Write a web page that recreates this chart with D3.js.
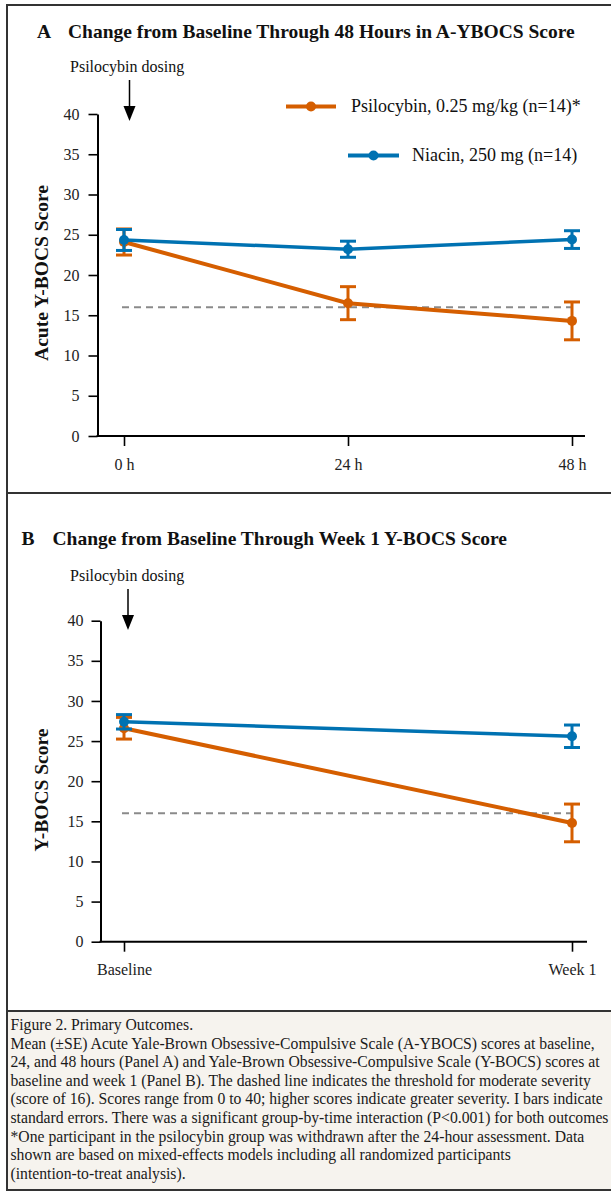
<!DOCTYPE html>
<html>
<head>
<meta charset="utf-8">
<script src="https://cdn.jsdelivr.net/npm/d3@7"></script>
<style>
  body { margin: 0; background: #fff; }
  svg { display: block; font-family: "Liberation Serif", "Times New Roman", serif; }
</style>
</head>
<body>
<svg id="fig"></svg>
<script>
// panel A: acute Y-BOCS through 48 h
var hoursA = ["0 h", "24 h", "48 h"];
var psiloMeanA = [24.1, 16.5, 14.3];
var psiloSeA = [1.62, 2.05, 2.35];
var niacinMeanA = [24.35, 23.2, 24.4];
var niacinSeA = [1.3, 1.0, 1.1];

// panel B: Y-BOCS baseline vs week 1
var weeksB = ["Baseline", "Week 1"];
var psiloMeanB = [26.6, 14.8];
var psiloSeB = [1.35, 2.35];
var niacinMeanB = [27.4, 25.6];
var niacinSeB = [0.9, 1.4];

var yTicks = [0, 5, 10, 15, 20, 25, 30, 35, 40];
var threshold = 16;
var legendLabels = ["Psilocybin, 0.25 mg/kg (n=14)*", "Niacin, 250 mg (n=14)"];

var captionLines = [
  "Figure 2. Primary Outcomes.",
  "Mean (\u00b1SE) Acute Yale-Brown Obsessive-Compulsive Scale (A-YBOCS) scores at baseline,",
  "24, and 48 hours (Panel A) and Yale-Brown Obsessive-Compulsive Scale (Y-BOCS) scores at",
  "baseline and week 1 (Panel B). The dashed line indicates the threshold for moderate severity",
  "(score of 16). Scores range from 0 to 40; higher scores indicate greater severity. I bars indicate",
  "standard errors. There was a significant group-by-time interaction (P<0.001) for both outcomes",
  "*One participant in the psilocybin group was withdrawn after the 24-hour assessment. Data",
  "shown are based on mixed-effects models including all randomized participants",
  "(intention-to-treat analysis)."
];

var ORANGE = "#d55e00", BLUE = "#0072b2";
var W = 611, H = 1191;

var svg = d3.select("#fig").attr("width", W).attr("height", H);

// frame + caption box
svg.append("rect").attr("x", 7).attr("y", 1011).attr("width", W).attr("height", 179)
  .attr("fill", "#f6f3ee");
var frame = svg.append("g").attr("stroke", "#333").attr("stroke-width", 2);
frame.append("line").attr("x1", 7).attr("x2", 7).attr("y1", 5).attr("y2", 1190);
[5, 493, 1011, 1190].forEach(function(y) {
  frame.append("line").attr("x1", 6).attr("x2", W).attr("y1", y).attr("y2", y);
});

function drawPanel(p) {
  var g = svg.append("g");

  var x = d3.scalePoint().domain(p.cats).range([124, 572]);
  var y = d3.scaleLinear().domain([0, 40]).range([p.y0, p.y40]);

  // title
  var t = g.append("text").attr("y", p.titleY)
    .style("font-weight", "bold").style("font-size", "19.5px").attr("fill", "#111");
  t.append("tspan").attr("x", p.letterX).text(p.letter);
  t.append("tspan").attr("x", p.titleX).text(p.title);

  // dosing arrow
  g.append("text").attr("x", 70).attr("y", p.doseY).style("font-size", "16px")
    .attr("fill", "#111").text("Psilocybin dosing");
  g.append("line").attr("x1", p.arrowX).attr("x2", p.arrowX)
    .attr("y1", p.doseY + 8).attr("y2", p.arrowTip - 12)
    .attr("stroke", "#000").attr("stroke-width", 1.5);
  g.append("path")
    .attr("d", "M" + (p.arrowX - 6) + "," + (p.arrowTip - 15) + "L" + (p.arrowX + 6) + "," +
      (p.arrowTip - 15) + "L" + p.arrowX + "," + p.arrowTip + "Z")
    .attr("fill", "#000");

  // y axis
  var ya = g.append("g").attr("transform", "translate(" + p.axisX + ",0)")
    .call(d3.axisLeft(y).tickValues(yTicks).tickSize(9).tickPadding(p.tickPad).tickSizeOuter(0))
    .attr("font-family", null).attr("font-size", 16);
  ya.select(".domain").attr("stroke", "#000").attr("stroke-width", 2);
  ya.selectAll(".tick line").attr("stroke", "#000").attr("stroke-width", 1.6);
  ya.selectAll(".tick text").attr("fill", "#222");

  // x axis
  var xa = g.append("g").attr("transform", "translate(0," + p.y0 + ")")
    .call(d3.axisBottom(x).tickSize(10).tickSizeOuter(0))
    .attr("font-family", null).attr("font-size", 16);
  xa.select(".domain").remove();
  xa.append("line").attr("x1", p.axisX - 1).attr("x2", p.axisEnd)
    .attr("stroke", "#000").attr("stroke-width", 2);
  xa.selectAll(".tick line").attr("stroke", "#000").attr("stroke-width", 1.6);
  xa.selectAll(".tick text").attr("fill", "#222").attr("y", p.xLabelY).attr("dy", null);

  // y label
  g.append("text")
    .attr("transform", "translate(48," + p.yLabelY + ") rotate(-90)")
    .attr("text-anchor", "middle").style("font-weight", "bold").style("font-size", "19.5px")
    .attr("fill", "#111").text(p.yLabel);

  // threshold
  g.append("line").attr("x1", 122).attr("x2", 573)
    .attr("y1", y(threshold)).attr("y2", y(threshold))
    .attr("stroke", "#8a8a8a").attr("stroke-width", 2).attr("stroke-dasharray", "7,5");

  var series = [
    { color: ORANGE, mean: p.psiloMean, se: p.psiloSe, width: 4 },
    { color: BLUE, mean: p.niacinMean, se: p.niacinSe, width: 3.5 }
  ];

  series.forEach(function(s) {
    var pts = p.cats.map(function(c, i) { return { c: c, m: s.mean[i], e: s.se[i] }; });
    var sg = g.append("g");

    sg.append("path").datum(pts)
      .attr("fill", "none").attr("stroke", s.color).attr("stroke-width", s.width)
      .attr("d", d3.line().x(function(d) { return x(d.c); }).y(function(d) { return y(d.m); }));

    var eb = sg.selectAll(".eb").data(pts).enter().append("g")
      .attr("stroke", s.color).attr("stroke-width", 3);
    eb.append("line")
      .attr("x1", function(d) { return x(d.c); }).attr("x2", function(d) { return x(d.c); })
      .attr("y1", function(d) { return y(d.m - d.e); }).attr("y2", function(d) { return y(d.m + d.e); });
    [-1, 1].forEach(function(sgn) {
      eb.append("line")
        .attr("x1", function(d) { return x(d.c) - 8; }).attr("x2", function(d) { return x(d.c) + 8; })
        .attr("y1", function(d) { return y(d.m + sgn * d.e); })
        .attr("y2", function(d) { return y(d.m + sgn * d.e); });
    });

    sg.selectAll("circle").data(pts).enter().append("circle")
      .attr("cx", function(d) { return x(d.c); }).attr("cy", function(d) { return y(d.m); })
      .attr("r", 5).attr("fill", s.color);
  });

  // legend (panel A only)
  if (p.legend) {
    var leg = g.append("g");
    var legRows = [
      { label: legendLabels[0], color: ORANGE, x1: 286, x2: 336, ty: 112, ly: 106.5, tx: 351 },
      { label: legendLabels[1], color: BLUE, x1: 348, x2: 399, ty: 161, ly: 155.5, tx: 412 }
    ];
    legRows.forEach(function(r) {
      leg.append("line").attr("x1", r.x1).attr("x2", r.x2).attr("y1", r.ly).attr("y2", r.ly)
        .attr("stroke", r.color).attr("stroke-width", 4);
      leg.append("circle").attr("cx", (r.x1 + r.x2) / 2).attr("cy", r.ly).attr("r", 5).attr("fill", r.color);
      leg.append("text").attr("x", r.tx).attr("y", r.ty).style("font-size", "18px")
        .attr("fill", "#111").text(r.label);
    });
  }
}

drawPanel({
  letter: "A", letterX: 37, titleX: 68, titleY: 38,
  title: "Change from Baseline Through 48 Hours in A-YBOCS Score",
  doseY: 72, arrowX: 129.5, arrowTip: 121,
  cats: hoursA, y0: 436, y40: 114, axisX: 97.5, axisEnd: 585, tickPad: 9, xLabelY: 34,
  yLabel: "Acute Y-BOCS Score", yLabelY: 273,
  psiloMean: psiloMeanA, psiloSe: psiloSeA, niacinMean: niacinMeanA, niacinSe: niacinSeA,
  legend: true
});

drawPanel({
  letter: "B", letterX: 21.5, titleX: 52.5, titleY: 545,
  title: "Change from Baseline Through Week 1 Y-BOCS Score",
  doseY: 581, arrowX: 128, arrowTip: 630,
  cats: weeksB, y0: 941.7, y40: 620.7, axisX: 100.5, axisEnd: 587, tickPad: 8, xLabelY: 33,
  yLabel: "Y-BOCS Score", yLabelY: 790,
  psiloMean: psiloMeanB, psiloSe: psiloSeB, niacinMean: niacinMeanB, niacinSe: niacinSeB,
  legend: false
});

// caption
svg.append("g").selectAll("text").data(captionLines).enter().append("text")
  .attr("x", 10.5).attr("y", function(d, i) { return 1030 + i * 18.6; })
  .style("font-size", "15.7px").attr("fill", "#1a1a1a")
  .text(function(d) { return d; });
</script>
</body>
</html>
